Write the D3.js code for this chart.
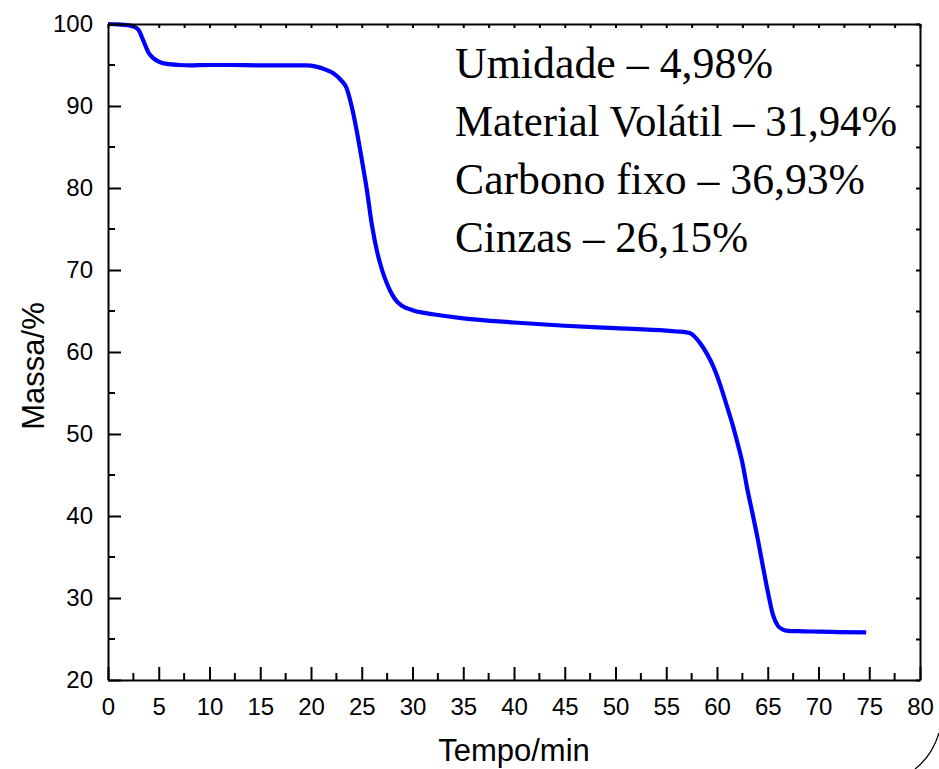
<!DOCTYPE html>
<html>
<head>
<meta charset="utf-8">
<script src="https://cdn.jsdelivr.net/npm/d3@7"></script>
<style>
  html, body { margin: 0; padding: 0; background: #fff; }
  svg { display: block; }
</style>
</head>
<body>
<svg id="chart" width="939" height="769"></svg>
<script>
// Thermogravimetric curve: mass (%) versus time (min)
const tempo = [0, 1, 2, 2.5, 3, 3.5, 4, 4.5, 5, 5.5, 6, 7, 8, 10, 12, 15, 18, 19.5,
  20.5, 21.5, 22.2, 23, 23.5, 24, 24.5, 25, 25.5, 26, 26.5, 27, 27.5, 28, 28.5, 29,
  30, 31, 32, 35, 40, 45, 50, 55, 56, 57, 57.5, 58, 58.5, 59, 59.5, 60, 60.5, 61,
  61.5, 62, 62.5, 63, 63.5, 64, 64.5, 65, 65.5, 66, 66.5, 67, 68, 70, 72, 74.7];
const massa = [100, 99.95, 99.85, 99.7, 99.3, 97.9, 96.5, 95.8, 95.4, 95.2, 95.1, 95.0, 94.95, 95.0, 95.0, 94.95, 94.95, 94.95,
  94.8, 94.4, 94.0, 93.1, 92.2, 90.0, 87.0, 83.5, 79.8, 75.5, 72.3, 70.0, 68.3, 67.0, 66.1, 65.6,
  65.1, 64.8, 64.6, 64.1, 63.6, 63.2, 62.9, 62.6, 62.5, 62.4, 62.2, 61.6, 60.8, 59.8, 58.6, 57.1, 55.3, 53.3,
  51.3, 49.0, 46.5, 43.2, 40.3, 37.3, 34.0, 30.8, 28.0, 26.6, 26.15, 26.0, 25.95, 25.9, 25.85, 25.8];

// Axis ticks
const xTicks = d3.range(0, 81, 5);
const xMinor = d3.range(2.5, 80, 5);
const yTicks = d3.range(20, 101, 10);
const yMinor = d3.range(25, 100, 10);

// Composition annotations
const composicao = [
  "Umidade – 4,98%",
  "Material Volátil – 31,94%",
  "Carbono fixo – 36,93%",
  "Cinzas – 26,15%"
];
const composicaoLargura = [318, 442, 410, 293];

const svg = d3.select("#chart");
const margin = { left: 108, top: 24, right: 19, bottom: 89 };
const W = 939 - margin.left - margin.right;
const H = 769 - margin.top - margin.bottom;

const x = d3.scaleLinear().domain([0, 80]).range([0, W]);
const y = d3.scaleLinear().domain([20, 100]).range([H, 0]);

const g = svg.append("g").attr("transform", `translate(${margin.left},${margin.top})`);

const sans = "'Liberation Sans', Arial, sans-serif";

// Curve
const line = d3.line()
  .x((d, i) => x(tempo[i]))
  .y(d => y(d))
  .curve(d3.curveMonotoneX);

g.append("path")
  .datum(massa)
  .attr("d", line)
  .attr("fill", "none")
  .attr("stroke", "#0000ff")
  .attr("stroke-width", 4.2)
  .attr("stroke-linejoin", "round")
  .attr("stroke-linecap", "butt");

// Axes with inward ticks
function styleAxis(sel) {
  sel.select(".domain").attr("stroke", "#000").attr("stroke-width", 2);
  sel.selectAll(".tick line").attr("stroke", "#000").attr("stroke-width", 2);
  sel.selectAll(".tick text").attr("font-family", sans).attr("font-size", 24).attr("fill", "#000");
}

const axisBottomG = g.append("g").attr("transform", `translate(0,${H})`)
  .call(d3.axisBottom(x).tickValues(xTicks).tickSizeInner(-13).tickSizeOuter(0).tickPadding(18).tickFormat(d3.format("d")));
styleAxis(axisBottomG);
axisBottomG.selectAll(".minor").data(xMinor).enter().append("line")
  .attr("class", "minor")
  .attr("x1", d => x(d)).attr("x2", d => x(d)).attr("y1", 0).attr("y2", -7)
  .attr("stroke", "#000").attr("stroke-width", 2);

const axisLeftG = g.append("g")
  .call(d3.axisLeft(y).tickValues(yTicks).tickSizeInner(-13).tickSizeOuter(0).tickPadding(15).tickFormat(d3.format("d")));
styleAxis(axisLeftG);
axisLeftG.selectAll(".minor").data(yMinor).enter().append("line")
  .attr("class", "minor")
  .attr("x1", 0).attr("x2", 7).attr("y1", d => y(d)).attr("y2", d => y(d))
  .attr("stroke", "#000").attr("stroke-width", 2);

const axisTopG = g.append("g")
  .call(d3.axisTop(x).tickValues(xTicks.concat(xMinor)).tickSizeInner(-4).tickSizeOuter(0).tickFormat(""));
styleAxis(axisTopG);

const axisRightG = g.append("g").attr("transform", `translate(${W},0)`)
  .call(d3.axisRight(y).tickValues(yTicks.concat(yMinor)).tickSizeInner(-4).tickSizeOuter(0).tickFormat(""));
styleAxis(axisRightG);

// Axis titles
svg.append("text")
  .attr("x", 514).attr("y", 761)
  .attr("text-anchor", "middle")
  .attr("font-family", sans).attr("font-size", 31)
  .text("Tempo/min");

svg.append("text")
  .attr("transform", `translate(44,366) rotate(-90)`)
  .attr("text-anchor", "middle")
  .attr("font-family", sans).attr("font-size", 31)
  .text("Massa/%");

// Composition text block
svg.append("g").selectAll("text").data(composicao).enter().append("text")
  .attr("x", 455)
  .attr("y", (d, i) => 78 + i * 58)
  .attr("font-family", "'Liberation Serif', 'Times New Roman', serif")
  .attr("font-size", 45)
  .attr("textLength", (d, i) => composicaoLargura[i])
  .attr("lengthAdjust", "spacingAndGlyphs")
  .attr("fill", "#000")
  .text(d => d);

// Page edge stroke in the lower right corner
svg.append("path")
  .attr("d", "M939,733 Q932,756 915,769")
  .attr("fill", "none")
  .attr("stroke", "#000")
  .attr("stroke-width", 1.2);
</script>
</body>
</html>
